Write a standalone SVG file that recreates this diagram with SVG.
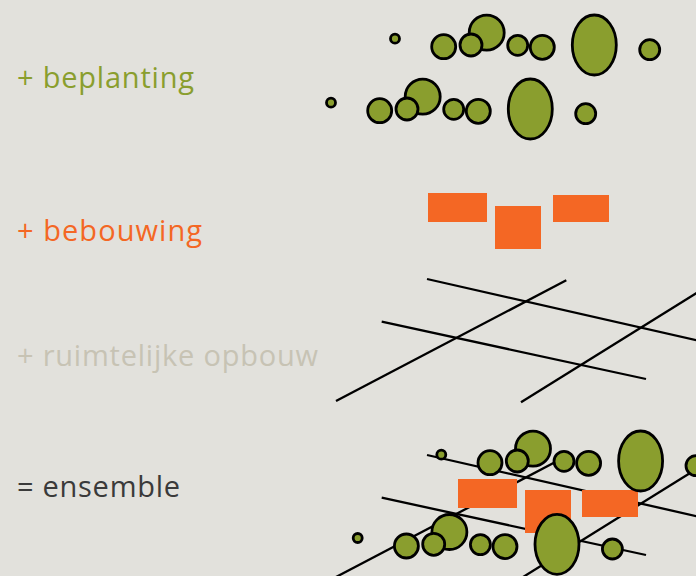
<svg xmlns="http://www.w3.org/2000/svg" width="696" height="576" viewBox="0 0 696 576">
<style>
.lbl{font-family:"Open Sans","Liberation Sans",Arial,sans-serif;font-size:29px}
.tree{fill:#8a9e2e;stroke:#000;stroke-width:2.8}
.bld{fill:#f46724}
.rd{stroke:#000;stroke-width:2.3;fill:none}
</style>
<rect width="696" height="576" fill="#e2e1dc"/>
<g id="labels">
<text class="lbl" x="17" y="88" fill="#8a9e2e" textLength="177" lengthAdjust="spacing">+ beplanting</text>
<text class="lbl" x="17" y="241" fill="#f46724" textLength="185" lengthAdjust="spacing">+ bebouwing</text>
<text class="lbl" x="17" y="366" fill="#c7c3b4" textLength="301" lengthAdjust="spacing">+ ruimtelijke opbouw</text>
<text class="lbl" x="17" y="497" fill="#3a3a3a" textLength="163" lengthAdjust="spacing">= ensemble</text>
</g>
<defs>
<g id="row">
<circle cx="0" cy="0" r="4.5"/>
<circle cx="91.7" cy="-6" r="17.5"/>
<circle cx="48.7" cy="8" r="12"/>
<circle cx="76" cy="6.3" r="11"/>
<circle cx="122.7" cy="6.6" r="10"/>
<circle cx="147.3" cy="8.6" r="12"/>
<ellipse cx="199.3" cy="6.3" rx="22" ry="30"/>
<circle cx="254.7" cy="11" r="10"/>
</g>
</defs>
<g id="beplanting" class="tree">
<use href="#row" x="395" y="38.7"/>
<use href="#row" x="331" y="102.7"/>
</g>
<g id="bebouwing" class="bld">
<rect x="428" y="193" width="59" height="29"/>
<rect x="495" y="206" width="46" height="43"/>
<rect x="553" y="195" width="56" height="27"/>
</g>
<g id="opbouw" class="rd">
<line x1="427" y1="279" x2="700" y2="341"/>
<line x1="381.7" y1="321.7" x2="646" y2="379"/>
<line x1="336" y1="401" x2="566.3" y2="280.3"/>
<line x1="521" y1="402.3" x2="700" y2="290.8"/>
</g>
<g id="ensemble">
<g class="rd">
<line x1="427" y1="455" x2="700" y2="517"/>
<line x1="381.7" y1="497.7" x2="646" y2="555"/>
<line x1="336" y1="577" x2="566.3" y2="456.3"/>
<line x1="521" y1="578.3" x2="700" y2="466.8"/>
</g>
<g class="bld">
<rect x="458" y="479" width="59" height="29"/>
<rect x="525" y="490" width="46" height="43"/>
<rect x="582" y="490" width="56" height="27"/>
</g>
<g class="tree">
<use href="#row" x="441.3" y="454.7"/>
<use href="#row" x="357.7" y="538"/>
</g>
</g>
</svg>
